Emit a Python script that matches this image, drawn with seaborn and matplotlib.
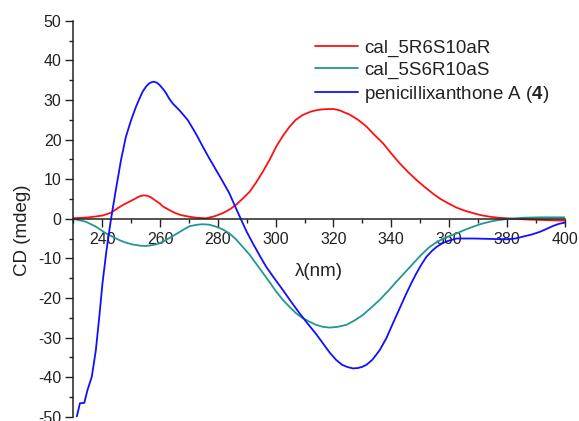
import numpy as np
import pandas as pd
import matplotlib
matplotlib.use("Agg")
import matplotlib.pyplot as plt
from matplotlib.ticker import MultipleLocator
import seaborn as sns

# ---- CD spectra (wavelength in nm, CD in mdeg) ----
wl_calc_r = [229.7, 235.5, 240.1, 243.0, 245.9, 247.5, 249.4, 251.0, 252.2, 253.5,
             254.6, 255.5, 256.9, 258.0, 259.8, 261.0, 263.2, 265.0, 267.3, 270.2,
             272.5, 275.9, 278.8, 281.7, 284.0, 286.3, 288.5, 291.0, 293.3, 295.6,
             298.0, 300.2, 302.5, 304.8, 307.0, 309.4, 312.0, 314.1, 316.0, 318.5,
             320.0, 322.0, 325.6, 328.5, 331.4, 334.0, 337.2, 340.0, 342.9, 345.8,
             348.7, 351.6, 354.5, 357.0, 359.7, 362.6, 365.5, 368.4, 371.0, 374.1,
             377.0, 379.9, 385.7, 391.5, 400.0]
cd_calc_r = [0.1, 0.35, 0.8, 1.5, 2.9, 3.6, 4.3, 4.9, 5.4, 5.8,
             5.9, 5.8, 5.4, 4.8, 3.9, 3.1, 2.2, 1.5, 0.9, 0.5,
             0.25, 0.1, 0.6, 1.4, 2.3, 3.5, 5.0, 6.8, 9.2, 11.9,
             15.0, 18.2, 20.9, 23.2, 25.0, 26.2, 27.0, 27.4, 27.6, 27.7,
             27.7, 27.4, 26.3, 25.0, 23.3, 21.3, 19.0, 16.5, 14.0, 11.8,
             9.8, 8.0, 6.3, 5.0, 3.9, 2.8, 2.0, 1.4, 0.9, 0.5,
             0.25, 0.1, -0.15, -0.3, -0.5]

wl_calc_s = [229.7, 234.3, 237.8, 241.3, 245.9, 248.0, 250.5, 253.0, 255.1, 257.0,
             259.2, 261.0, 263.2, 265.5, 267.8, 270.2, 273.0, 274.8, 277.0, 279.4,
             281.7, 284.0, 286.3, 288.6, 291.0, 293.2, 295.5, 297.8, 300.0, 302.5,
             305.0, 307.1, 309.4, 311.7, 314.0, 316.3, 318.7, 321.5, 324.5, 327.3,
             330.2, 333.0, 336.0, 339.0, 341.8, 344.7, 347.6, 350.4, 353.3, 356.0,
             359.0, 362.6, 365.5, 368.4, 371.2, 374.1, 377.0, 379.9, 385.7, 391.5,
             400.0]
cd_calc_s = [0.0, -0.75, -2.0, -3.7, -5.4, -6.0, -6.5, -6.8, -6.9, -6.7,
             -6.4, -5.8, -4.9, -3.9, -2.9, -1.9, -1.5, -1.4, -1.5, -2.0,
             -2.7, -3.7, -5.2, -7.1, -9.1, -11.3, -13.6, -15.9, -18.2, -20.5,
             -22.4, -23.9, -25.1, -26.0, -26.8, -27.3, -27.5, -27.3, -26.8, -25.7,
             -24.3, -22.5, -20.5, -18.2, -15.9, -13.6, -11.3, -9.1, -7.1, -5.8,
             -4.7, -3.7, -2.8, -2.0, -1.3, -0.75, -0.35, -0.1, 0.25, 0.35,
             0.35]

wl_exp = [231.2, 232.3, 233.8, 234.9, 236.4, 237.8, 239.0, 240.1, 241.5, 243.0,
          244.7, 246.5, 248.2, 250.0, 251.7, 253.0, 254.0, 255.2, 256.3, 257.2,
          258.0, 259.0, 259.8, 261.0, 262.1, 263.2, 264.4, 266.7, 268.0, 269.6,
          271.5, 273.0, 274.8, 277.0, 279.4, 281.7, 284.0, 286.0, 288.1, 290.0,
          292.1, 294.4, 296.7, 299.5, 302.5, 305.4, 308.3, 311.2, 314.1, 316.4,
          318.7, 321.0, 323.0, 325.0, 326.8, 328.5, 330.0, 331.4, 333.5, 336.0,
          338.3, 340.6, 343.0, 345.3, 347.0, 348.7, 350.5, 352.2, 354.0, 355.7,
          357.7, 359.7, 362.6, 368.4, 374.1, 379.9, 383.0, 385.7, 388.6, 391.5,
          394.0, 396.1, 398.0, 400.0]
cd_exp = [-50.0, -46.6, -46.5, -43.3, -39.9, -33.2, -24.7, -16.3, -7.9, -0.3,
          7.2, 14.8, 20.7, 24.9, 28.3, 30.5, 32.1, 33.4, 34.2, 34.5,
          34.6, 34.3, 33.8, 32.8, 31.7, 30.3, 29.1, 27.4, 26.3, 24.9,
          22.6, 20.7, 18.2, 15.3, 12.3, 9.4, 6.4, 3.1, -0.3, -3.3,
          -6.2, -9.2, -12.1, -15.0, -18.0, -21.0, -23.9, -26.6, -29.2, -31.5,
          -33.8, -35.7, -36.9, -37.5, -37.8, -37.7, -37.4, -36.9, -35.6, -33.2,
          -30.2, -26.4, -22.5, -18.8, -16.2, -13.8, -11.5, -9.6, -8.2, -7.1,
          -6.2, -5.6, -5.0, -5.0, -5.1, -5.2, -5.0, -4.5, -4.0, -3.3,
          -2.5, -1.8, -1.3, -1.0]

series_names = ["cal_5R6S10aR", "cal_5S6R10aS", r"penicillixanthone A ($\mathbf{4}$)"]
series_colors = ["#FF1010", "#23978E", "#1010FF"]

x_ticks = [240, 260, 280, 300, 320, 340, 360, 380, 400]
y_ticks = [-50, -40, -30, -20, -10, 0, 10, 20, 30, 40, 50]

df = pd.concat([
    pd.DataFrame({"wl": wl_calc_r, "cd": cd_calc_r, "series": series_names[0]}),
    pd.DataFrame({"wl": wl_calc_s, "cd": cd_calc_s, "series": series_names[1]}),
    pd.DataFrame({"wl": wl_exp, "cd": cd_exp, "series": series_names[2]}),
], ignore_index=True)

sns.set_style("ticks")
plt.rcParams["font.family"] = ["Liberation Sans", "DejaVu Sans"]
plt.rcParams["mathtext.fontset"] = "custom"
plt.rcParams["mathtext.rm"] = "Liberation Sans"
plt.rcParams["mathtext.bf"] = "Liberation Sans:bold"

fig = plt.figure(figsize=(5.79, 4.21), dpi=100)
ax = fig.add_axes([0.1266, 0.0102, 0.8486, 0.9406])

sns.lineplot(data=df, x="wl", y="cd", hue="series", hue_order=series_names,
             palette=series_colors, linewidth=1.3, estimator=None, sort=False,
             ax=ax)

ax.set_xlim(230, 400)
ax.set_ylim(-50, 50)

# x axis drawn through CD = 0
ax.spines["bottom"].set_position(("data", 0))
ax.spines["top"].set_visible(False)
ax.spines["right"].set_visible(False)
for s in ("bottom", "left"):
    ax.spines[s].set_color("#222222")
    ax.spines[s].set_linewidth(1.1)

ax.set_xticks(x_ticks)
ax.set_xticklabels([str(t) for t in x_ticks])
ax.xaxis.set_minor_locator(MultipleLocator(10))
ax.set_yticks(y_ticks)
ax.set_yticklabels([str(t) for t in y_ticks])
ax.yaxis.set_minor_locator(MultipleLocator(5))

ax.tick_params(axis="both", which="major", direction="out", length=5.5,
               width=1.0, color="#222222", labelsize=11.5, labelcolor="#222222")
ax.tick_params(axis="both", which="minor", direction="out", length=3,
               width=1.0, color="#222222")
ax.tick_params(axis="x", which="major", pad=4)
ax.tick_params(axis="y", which="major", pad=3)

ax.set_xlabel("λ(nm)", fontsize=13.5, color="#222222")
ax.xaxis.set_label_coords(0.5, 0.388)
ax.set_ylabel("CD (mdeg)", fontsize=13.5, color="#222222")
ax.yaxis.set_label_coords(-0.086, 0.471)

leg = ax.legend(loc="upper left", bbox_to_anchor=(0.492, 0.952), frameon=False,
                fontsize=13.5, borderpad=0, borderaxespad=0,
                handlelength=2.3, handletextpad=0.3, labelspacing=0.25)
for line in leg.get_lines():
    line.set_linewidth(1.3)
for t in leg.get_texts():
    t.set_color("#222222")

fig.savefig("out.png", dpi=100)
